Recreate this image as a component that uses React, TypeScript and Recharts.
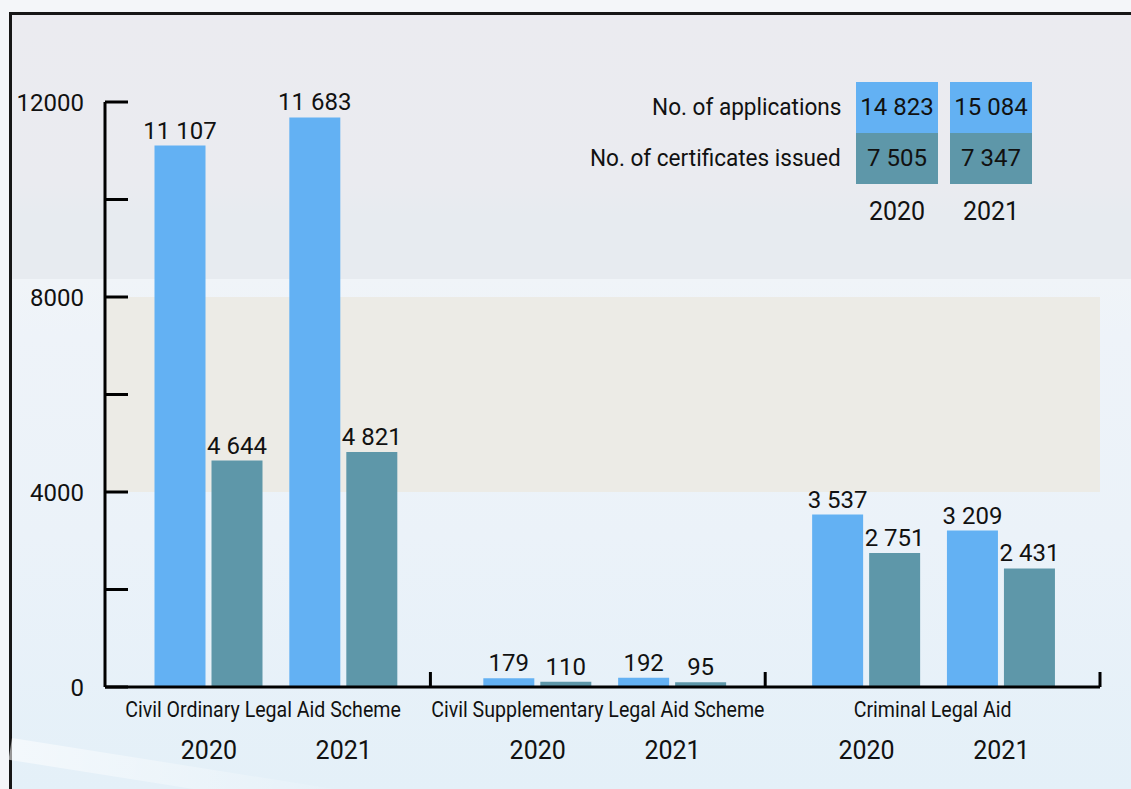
import React from 'react'
import { BarChart, Bar, XAxis, YAxis, LabelList, ReferenceArea } from 'recharts'

const schemes = [
  'Civil Ordinary Legal Aid Scheme',
  'Civil Supplementary Legal Aid Scheme',
  'Criminal Legal Aid',
]
const years = ['2020', '2021']
const applications2020 = [11107, 179, 3537]
const applications2021 = [11683, 192, 3209]
const certificates2020 = [4644, 110, 2751]
const certificates2021 = [4821, 95, 2431]
const yTicks = [0, 2000, 4000, 6000, 8000, 10000, 12000]
const yLabelled = [0, 4000, 8000, 12000]

const APP_COLOR = '#63b1f3'
const CERT_COLOR = '#5e97a9'
const FONT = "Roboto, 'Liberation Sans', sans-serif"

// where each year's pair of bars sits inside its scheme slot
const yearSlot = [0.33, 0.74]

const apps = [applications2020, applications2021]
const certs = [certificates2020, certificates2021]

const rows = schemes.flatMap((scheme, i) =>
  years.map((year, j) => ({
    pos: i + yearSlot[j],
    scheme,
    year,
    apps: apps[j][i],
    certs: certs[j][i],
  }))
)

const sum = (a: number[]) => a.reduce((s, v) => s + v, 0)
const totals = years.map((year, j) => ({ year, apps: sum(apps[j]), certs: sum(certs[j]) }))

const fmt = (v: any) => String(v).replace(/\B(?=(\d{3})+(?!\d))/g, ' ')

const boundaries = schemes.map((_, i) => i + 1)
const centers = schemes.map((_, i) => i + 0.5)

function YearTick(props: any) {
  const { x, y, payload } = props
  const row = rows.find((r) => Math.abs(r.pos - payload.value) < 1e-6)
  return (
    <text x={x} y={y + 72} textAnchor="middle" fontSize={25} fontFamily={FONT} fill="#111">
      {row ? row.year : ''}
    </text>
  )
}

function SchemeTick(props: any) {
  const { x, y, payload } = props
  const v = payload.value
  if (boundaries.includes(v)) {
    return <line x1={x} x2={x} y1={y - 1} y2={y - 16} stroke="#000" strokeWidth={3} />
  }
  const ci = centers.indexOf(v)
  return (
    <text
      transform={`translate(${x} ${y + 29}) scale(0.89 1)`}
      textAnchor="middle"
      fontSize={22}
      fontFamily={FONT}
      fill="#111"
    >
      {ci >= 0 ? schemes[ci] : ''}
    </text>
  )
}

function YTick(props: any) {
  const { x, y, payload } = props
  return (
    <g>
      <line x1={x} x2={x + 23} y1={y} y2={y} stroke="#000" strokeWidth={3} />
      {yLabelled.includes(payload.value) && (
        <text x={x - 21} y={y} dy="0.36em" textAnchor="end" fontSize={24} fontFamily={FONT} fill="#111">
          {payload.value}
        </text>
      )}
    </g>
  )
}

const cell = (left: number, top: number, bg: string, text: string) => (
  <div
    style={{
      position: 'absolute',
      left,
      top,
      width: 82,
      height: 51,
      lineHeight: '51px',
      background: bg,
      textAlign: 'center',
      fontFamily: FONT,
      fontSize: 24,
      color: '#111',
    }}
  >
    {text}
  </div>
)

const rowLabel = (top: number, text: string) => (
  <div
    style={{
      position: 'absolute',
      right: 290,
      top,
      height: 51,
      lineHeight: '51px',
      textAlign: 'right',
      whiteSpace: 'nowrap',
      fontFamily: FONT,
      fontSize: 24,
      color: '#111',
      transform: 'scaleX(0.94)',
      transformOrigin: 'right center',
    }}
  >
    {text}
  </div>
)

export default function App() {
  const boxLeft = [856, 950]
  return (
    <div style={{ position: 'absolute', left: 0, top: 0, width: 1131, height: 789, overflow: 'hidden', background: '#f4f6f9' }}>
      <div
        style={{
          position: 'absolute',
          left: 9,
          top: 12,
          width: 1140,
          height: 800,
          borderLeft: '3px solid #161616',
          borderTop: '3px solid #161616',
          background:
            'linear-gradient(to bottom, #ebebf0 0px, #eaebf0 170px, #e7ebf0 200px, #e7ebf0 264px, #f0f4f8 264px, #eef3f9 320px, #ebf2f9 520px, #e4f0f8 774px)',
        }}
      />
      <div
        style={{
          position: 'absolute',
          left: 12,
          top: 738,
          width: 380,
          height: 22,
          background: 'linear-gradient(to right, rgba(255,255,255,0.55), rgba(255,255,255,0))',
          transform: 'rotate(9deg)',
          transformOrigin: 'left top',
        }}
      />
      <div style={{ position: 'absolute', left: 0, top: 0 }}>
        <BarChart
          width={1131}
          height={789}
          data={rows}
          margin={{ top: 102, right: 31, bottom: 0, left: 0 }}
          barSize={51}
          barGap={6}
        >
          <ReferenceArea y1={4000} y2={8000} fill="#ecebe6" fillOpacity={1} stroke="none" />
          <XAxis
            type="number"
            dataKey="pos"
            domain={[0.014, 3.04]}
            allowDataOverflow
            ticks={rows.map((r) => r.pos)}
            interval={0}
            tick={<YearTick />}
            tickLine={false}
            tickSize={0}
            tickMargin={0}
            height={1}
            axisLine={{ stroke: '#000', strokeWidth: 3 }}
          />
          <XAxis
            xAxisId="scheme"
            type="number"
            dataKey="pos"
            domain={[0.028, 3]}
            allowDataOverflow
            ticks={[...boundaries, ...centers]}
            interval={0}
            tick={<SchemeTick />}
            tickLine={false}
            tickSize={0}
            tickMargin={0}
            height={101}
            axisLine={false}
          />
          <YAxis
            type="number"
            domain={[0, 12000]}
            ticks={yTicks}
            interval={0}
            width={105}
            tick={<YTick />}
            tickLine={false}
            tickSize={0}
            tickMargin={0}
            axisLine={{ stroke: '#000', strokeWidth: 3 }}
          />
          <Bar dataKey="apps" fill={APP_COLOR} isAnimationActive={false}>
            <LabelList dataKey="apps" position="top" offset={7} formatter={fmt} fill="#111" fontSize={24} fontFamily={FONT} />
          </Bar>
          <Bar dataKey="certs" fill={CERT_COLOR} isAnimationActive={false}>
            <LabelList dataKey="certs" position="top" offset={7} formatter={fmt} fill="#111" fontSize={24} fontFamily={FONT} />
          </Bar>
        </BarChart>
      </div>
      {rowLabel(82, 'No. of applications')}
      {rowLabel(133, 'No. of certificates issued')}
      {totals.map((t, j) => (
        <React.Fragment key={t.year}>
          {cell(boxLeft[j], 82, APP_COLOR, fmt(t.apps))}
          {cell(boxLeft[j], 133, CERT_COLOR, fmt(t.certs))}
          <div
            style={{
              position: 'absolute',
              left: boxLeft[j],
              top: 187,
              width: 82,
              height: 50,
              lineHeight: '50px',
              textAlign: 'center',
              fontFamily: FONT,
              fontSize: 25,
              color: '#111',
            }}
          >
            {t.year}
          </div>
        </React.Fragment>
      ))}
    </div>
  )
}
